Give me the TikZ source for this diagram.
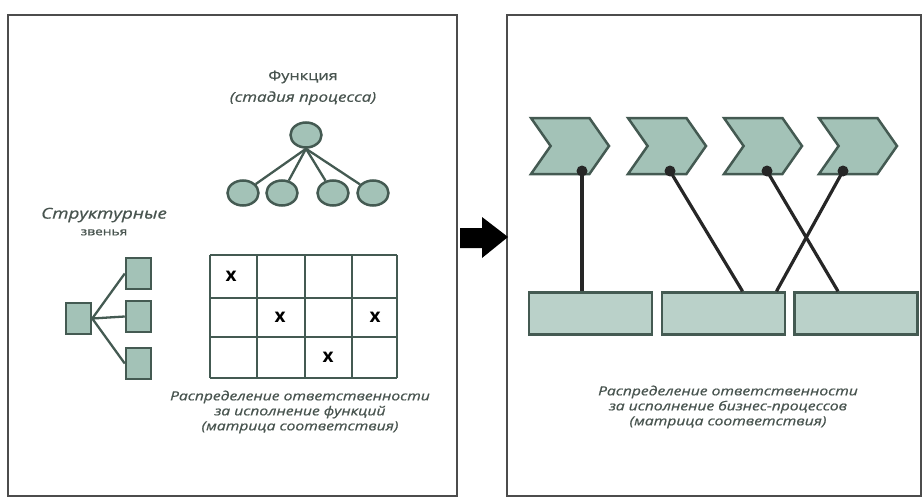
\documentclass[tikz,border=0pt]{standalone}
\usepackage{fontspec}
\setmainfont{Open Sans}
\newfontfamily\capfont[FakeStretch=1.25,FakeBold=0.8]{Open Sans}
\usetikzlibrary{positioning,shapes.geometric,shapes.symbols}
\definecolor{procfill}{RGB}{163,194,183}
\definecolor{procedge}{RGB}{68,90,82}
\definecolor{captext}{RGB}{72,84,79}

\tikzset{
  panel/.style={draw=black!70, line width=2pt},
  func/.style={ellipse, draw=procedge, fill=procfill, line width=2.5pt, minimum width=31pt, minimum height=25pt, inner sep=0pt},
  unitbox/.style={draw=procedge, fill=procfill, line width=2.5pt, minimum width=25pt, minimum height=31pt, inner sep=0pt},
  chev/.style={signal, signal to=east, signal from=west, signal pointer angle=110, draw=procedge, fill=procfill, line width=2.5pt, minimum width=78pt, minimum height=56pt, inner sep=0pt},
  execbox/.style={draw=procedge, fill=procfill!75, line width=2.5pt, minimum width=123pt, minimum height=42pt, inner sep=0pt},
  link/.style={draw=procedge, line width=2.3pt},
  assign/.style={draw=black!85, line width=3.2pt},
  captxt/.style={text=captext, font=\capfont\itshape\fontsize{12.5}{15}\selectfont, align=center},
  xmark/.style={font=\bfseries\fontsize{19}{19}\selectfont, inner sep=0pt}
}

\begin{document}
\begin{tikzpicture}[x=1pt,y=-1pt]
  \useasboundingbox (0,0) rectangle (924,498);

  % two panels and the arrow between them
  \draw[panel] (8,15) rectangle (457,496);
  \draw[panel] (507,15) rectangle (921,496);
  \fill[black] (460,228) -- (482,228) -- (482,217) -- (508,237) -- (482,258) -- (482,248) -- (460,248) -- cycle;

  % functions
  \node[captxt, font=\capfont\fontsize{13}{15}\selectfont] (fname) at (303,77) {Функция};
  \node[captxt, font=\capfont\itshape\fontsize{13.5}{15}\selectfont, below=1pt of fname] (fstage) {(стадия процесса)};
  \node[func] (f0) at (306,135) {};
  \foreach \x [count=\i] in {243,282,333,373}
  {
    \node[func] (f\i) at (\x,193) {};
    \draw[link] (f0.south) -- (f\i);
  }

  % structural units
  \node[captxt, font=\capfont\itshape\fontsize{15}{18}\selectfont] (uname) at (104,215) {Структурные};
  \node[captxt, font=\capfont\fontsize{11}{13}\selectfont, below=0pt of uname] (uname2) {звенья};
  \node[unitbox] (u0) at (78.5,318.5) {};
  \foreach \y [count=\i] in {273.5,316.5,363.5}
  {
    \node[unitbox] (u\i) at (138.5,\y) {};
    \draw[link] (u0.east) -- (u\i.west);
  }

  % responsibility matrix
  \foreach \x in {210,257,305,352,397}
    \draw[procedge, line width=2.3pt] (\x,255) -- (\x,378);
  \foreach \y in {255,298,337,378}
    \draw[procedge, line width=2.3pt] (210,\y) -- (397,\y);
  \foreach \x/\y [count=\i] in {231/276, 280/317, 375/317, 328/357}
    \node[xmark] (x\i) at (\x,\y) {x};
  \node[captxt] (mcap) at (300,412) {Распределение ответственности\\за исполнение функций\\(матрица соответствия)};

  % business processes
  \foreach \x [count=\i] in {570,667,763,858}
    \node[chev] (p\i) at (\x,146) {};
  \foreach \x [count=\i] in {590.5,723.5,856}
    \node[execbox] (b\i) at (\x,313.5) {};
  \foreach \x/\n in {582/1, 670/2, 767/3, 843/4}
  {
    \coordinate (d\n) at (\x,171);
    \fill[black!85] (d\n) circle (5.5pt);
  }
  \draw[assign] (d1) -- ([xshift=-8.5pt]b1.north);
  \draw[assign] (d2) -- ([xshift=19pt]b2.north);
  \draw[assign] (d4) -- ([xshift=53pt]b2.north);
  \draw[assign] (d3) -- ([xshift=-18pt]b3.north);
  \node[captxt] (pcap) at (728,407) {Распределение ответственности\\за исполнение бизнес-процессов\\(матрица соответствия)};
\end{tikzpicture}
\end{document}
